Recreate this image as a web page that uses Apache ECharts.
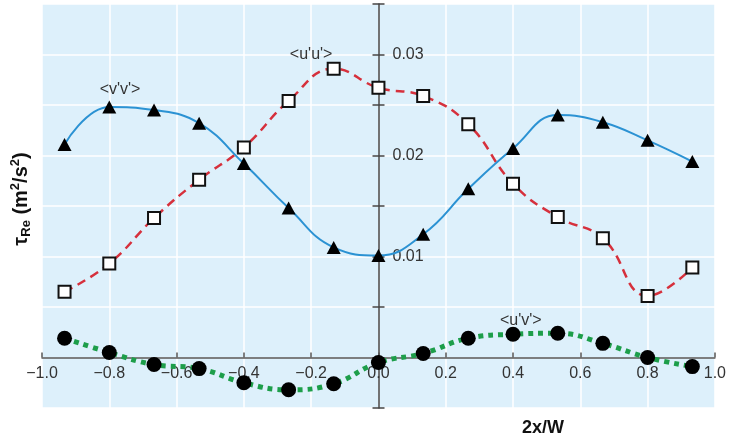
<!DOCTYPE html>
<html><head><meta charset="utf-8">
<script src="https://cdn.jsdelivr.net/npm/echarts@6/dist/echarts.min.js"></script>
<style>html,body{margin:0;padding:0;background:#fff}#c{width:729px;height:442px}</style>
</head><body><div id="c"></div>
<script>
// positions across the channel (2x/W)
const xPositions = [-0.933, -0.8, -0.667, -0.533, -0.4, -0.267, -0.133, 0, 0.133, 0.267, 0.4, 0.533, 0.667, 0.8, 0.933];
// <v'v'> (triangles)
const vvValues = [0.0211, 0.0248, 0.0245, 0.0232, 0.0192, 0.0148, 0.0109, 0.0101, 0.0122, 0.0167, 0.0207, 0.0240, 0.0233, 0.0215, 0.0194];
// <u'u'> (squares)
const uuValues = [0.0065, 0.0093, 0.0138, 0.0176, 0.0208, 0.0254, 0.0286, 0.0267, 0.0259, 0.0231, 0.0172, 0.0139, 0.0118, 0.0061, 0.0089];
// <u'v'> (circles)
const uvValues = [0.0019, 0.0005, -0.0007, -0.0011, -0.0025, -0.0032, -0.0026, -0.0005, 0.0004, 0.0019, 0.0023, 0.0024, 0.0014, 0.0000, -0.0009];
// labelled ticks on the y axis
const yTickLabels = [0.01, 0.02, 0.03];
// series labels
const seriesNames = ["<v'v'>", "<u'u'>", "<u'v'>"];

const FONT = "'Liberation Sans', Arial, Helvetica, sans-serif";
const pair = vals => xPositions.map((x, i) => [x, vals[i]]);

const W = 729, H = 442;
const G = {left: 42, right: 14, top: 4, bottom: 34};
const X_MIN = -1, X_MAX = 1, Y_MIN = -0.005, Y_MAX = 0.035;
const gridW = W - G.left - G.right, gridH = H - G.top - G.bottom;
// axes cross at zero: shift them inward from the grid edges
const yAxisOffset = -gridW * (0 - X_MIN) / (X_MAX - X_MIN);
const xAxisOffset = -gridH * (0 - Y_MIN) / (Y_MAX - Y_MIN);

const chart = echarts.init(document.getElementById('c'), null, {renderer: 'canvas'});

function note(text, coord) {
  return {
    silent: true,
    symbol: 'circle',
    symbolSize: 0,
    data: [{coord: coord, value: text}],
    label: {show: true, position: 'inside', formatter: text, color: '#333', fontSize: 16, fontFamily: FONT},
    itemStyle: {color: 'transparent'}
  };
}

chart.setOption({
  animation: false,
  backgroundColor: '#fff',
  grid: Object.assign({show: true, backgroundColor: '#ddf0fb', borderWidth: 0}, G),
  xAxis: {
    type: 'value', min: X_MIN, max: X_MAX, interval: 0.2, position: 'bottom', offset: xAxisOffset,
    axisLine: {onZero: false, lineStyle: {color: '#555', width: 1.5}},
    axisTick: {show: true, inside: true, length: 5, lineStyle: {color: '#555', width: 1.5}},
    axisLabel: {margin: 8, fontSize: 16, color: '#333', fontFamily: FONT,
      formatter: v => (v < -1e-9 ? '\u2212' : '') + Math.abs(v).toFixed(1)},
    splitLine: {show: true, lineStyle: {color: '#fff', width: 1.5}}
  },
  yAxis: [{
    type: 'value', min: Y_MIN, max: Y_MAX, interval: 0.005, position: 'left', offset: yAxisOffset,
    axisLine: {show: true, onZero: false, lineStyle: {color: '#444', width: 1.5}},
    axisTick: {show: true, inside: false, length: 6, lineStyle: {color: '#444', width: 1.5}},
    axisLabel: {inside: true, margin: 14, fontSize: 16, color: '#333', fontFamily: FONT,
      formatter: v => yTickLabels.some(t => Math.abs(t - v) < 1e-9) ? v.toFixed(2) : ''},
    splitLine: {show: true, lineStyle: {color: '#fff', width: 1.5}}
  }, {
    type: 'value', min: Y_MIN, max: Y_MAX, interval: 0.005, position: 'left', offset: yAxisOffset,
    axisLine: {show: false, onZero: false},
    axisTick: {show: true, inside: true, length: 6, lineStyle: {color: '#444', width: 1.5}},
    axisLabel: {show: false},
    splitLine: {show: false}
  }],
  graphic: [
    {type: 'text', x: 543, y: 428, z: 100,
      style: {text: '2x/W', font: 'bold 18px ' + FONT, fill: '#111', align: 'center', verticalAlign: 'middle', textAlign: 'center', textVerticalAlign: 'middle'}},
    {type: 'text', x: 21, y: 199, rotation: Math.PI / 2, z: 100,
      style: {
        text: '{a|\u03c4}{s|Re}{a| (m}{p|2}{a|/s}{p|2}{a|)}',
        align: 'center', verticalAlign: 'middle', textAlign: 'center', textVerticalAlign: 'middle',
        rich: {
          a: {font: 'bold 20px ' + FONT, fill: '#111', color: '#111', lineHeight: 24, verticalAlign: 'middle'},
          s: {font: 'bold 13px ' + FONT, fill: '#111', color: '#111', lineHeight: 24, verticalAlign: 'bottom', padding: [6, 0, 0, 0]},
          p: {font: 'bold 13px ' + FONT, fill: '#111', color: '#111', lineHeight: 24, verticalAlign: 'top', padding: [0, 0, 8, 0]}
        }
      }}
  ],
  series: [{
    name: seriesNames[0], type: 'line', smooth: 0.45, data: pair(vvValues), z: 4, yAxisIndex: 0,
    symbol: 'triangle', symbolSize: [14, 13],
    itemStyle: {color: '#000'},
    lineStyle: {color: '#2b92d3', width: 2},
    markPoint: note(seriesNames[0], [-0.768, 0.0265])
  }, {
    name: seriesNames[1], type: 'line', smooth: 0.45, data: pair(uuValues), z: 3, yAxisIndex: 0,
    symbol: 'rect', symbolSize: 12,
    itemStyle: {color: '#fff', borderColor: '#111', borderWidth: 2},
    lineStyle: {color: '#d6303c', width: 2.5, type: [9, 6]},
    markPoint: note(seriesNames[1], [-0.2, 0.0300])
  }, {
    name: seriesNames[2], type: 'line', smooth: 0.45, data: pair(uvValues), z: 5, yAxisIndex: 0,
    symbol: 'circle', symbolSize: 15,
    itemStyle: {color: '#000'},
    lineStyle: {color: '#1d9e4a', width: 5, type: [5, 5], cap: 'butt'},
    markPoint: note(seriesNames[2], [0.423, 0.0037])
  }]
});
</script></body></html>
